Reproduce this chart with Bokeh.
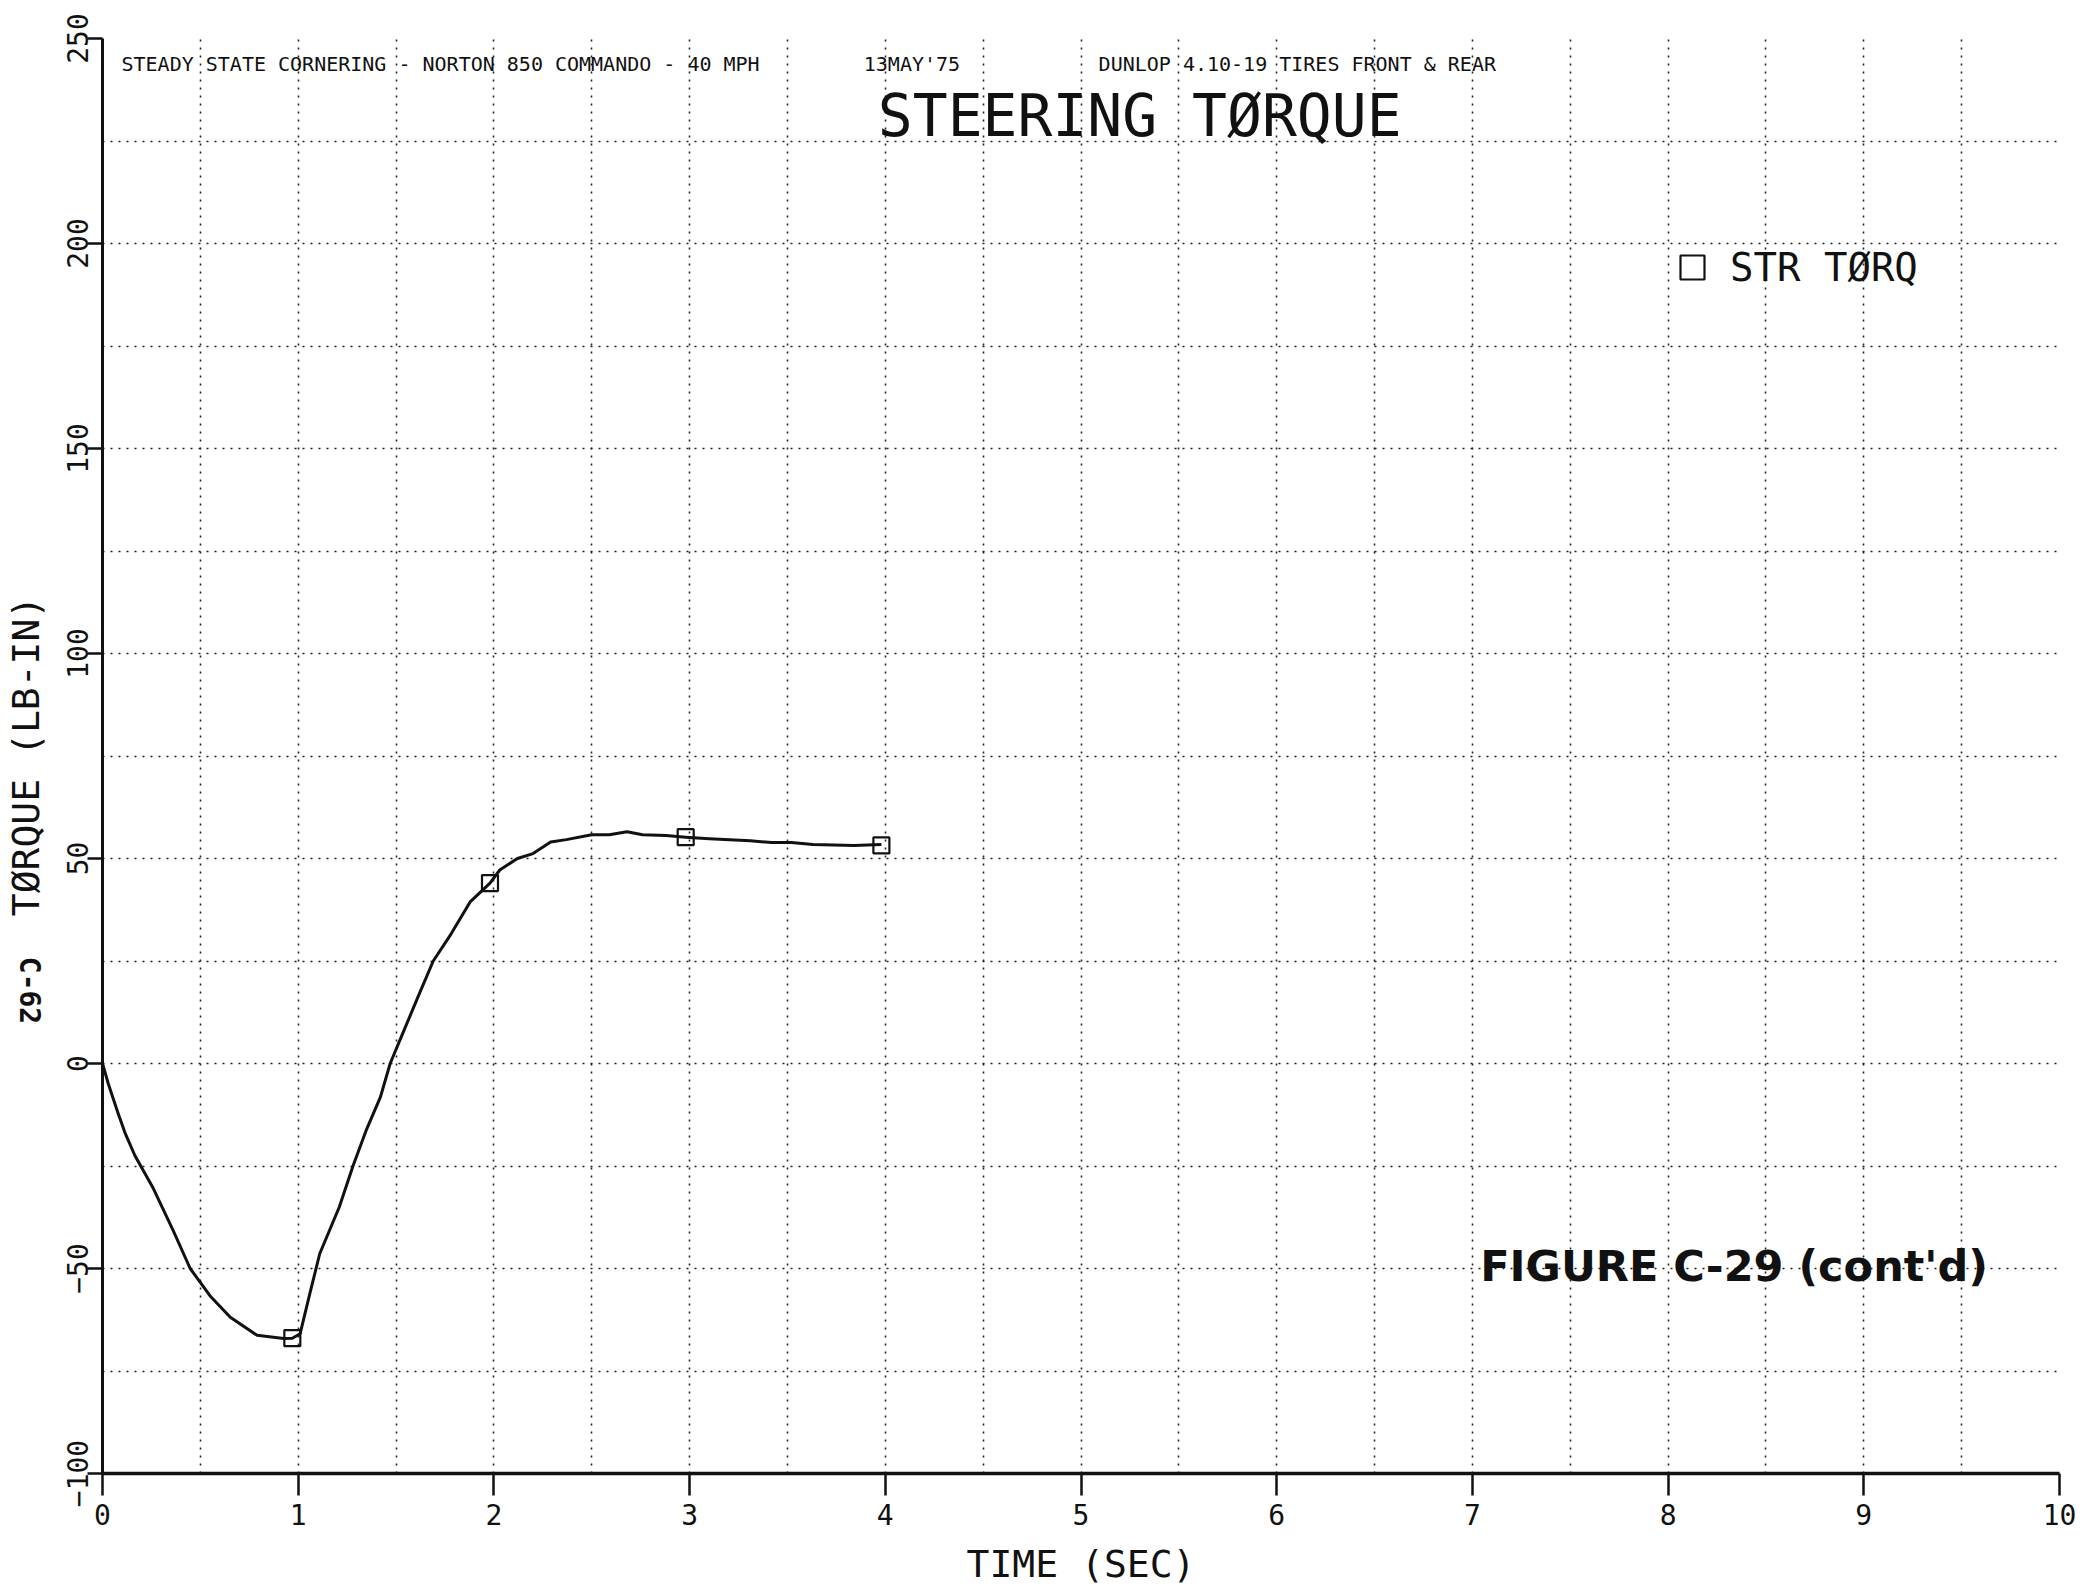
import math
from bokeh.plotting import figure
from bokeh.models import Label, Legend, LegendItem, SingleIntervalTicker, Range1d
from bokeh.embed import file_html
from bokeh.resources import INLINE

# ---- data ----
time_sec = [0.0, 0.03, 0.08, 0.115, 0.166, 0.26, 0.362, 0.448, 0.55, 0.653, 0.79, 0.926,
            0.97, 1.01, 1.06, 1.11, 1.21, 1.28, 1.35, 1.42, 1.47, 1.54, 1.61, 1.69, 1.78,
            1.88, 1.98, 2.03, 2.12, 2.20, 2.29, 2.37, 2.50, 2.59, 2.68, 2.76, 2.88, 2.98,
            3.10, 3.31, 3.42, 3.52, 3.63, 3.84, 3.98]
torque_lbin = [0.0, -5.0, -12.2, -16.9, -22.5, -30.5, -40.8, -50.0, -56.7, -61.9, -66.3, -67.1,
               -67.0, -65.9, -56.0, -46.4, -35.0, -25.0, -16.0, -8.2, 0.0, 8.0, 16.0, 25.0, 31.5,
               39.5, 44.0, 47.2, 50.0, 51.2, 54.0, 54.6, 55.8, 55.8, 56.5, 55.8, 55.6, 55.2,
               54.8, 54.3, 53.9, 53.9, 53.4, 53.2, 53.4]
marker_time = [0.97, 1.98, 2.98, 3.98]
marker_torque = [-67.0, 44.0, 55.2, 53.2]

series_name = "STR TØRQ"
x_title = "TIME (SEC)"
y_title = "TØRQUE (LB-IN)"
chart_title = "STEERING TØRQUE"
header_left = "STEADY STATE CORNERING - NORTON 850 COMMANDO - 40 MPH"
header_date = "13MAY'75"
header_right = "DUNLOP 4.10-19 TIRES FRONT & REAR"
page_number = "C-62"
figure_note = "FIGURE C-29 (cont'd)"

MONO = "DejaVu Sans Mono"
INK = "#111111"

p = figure(frame_width=1957, frame_height=1435,
           x_range=Range1d(0, 10), y_range=Range1d(-100, 250),
           output_backend="svg", toolbar_location=None,
           min_border_left=98, min_border_right=17, min_border_top=38, min_border_bottom=102)
p.outline_line_color = None
p.background_fill_color = "white"
p.border_fill_color = "white"

# axes
p.xaxis.ticker = SingleIntervalTicker(interval=1, num_minor_ticks=0)
p.yaxis.ticker = SingleIntervalTicker(interval=50, num_minor_ticks=0)
for ax in (p.xaxis, p.yaxis):
    ax.axis_line_color = INK
    ax.major_tick_line_color = INK
    ax.major_tick_line_width = 2.5
    ax.major_tick_in = 0
    ax.minor_tick_line_color = None
    ax.major_label_text_font = MONO
    ax.major_label_text_font_size = "28px"
    ax.major_label_text_color = INK
    ax.axis_label_text_font = MONO
    ax.axis_label_text_font_size = "38px"
    ax.axis_label_text_font_style = "normal"
    ax.axis_label_text_color = INK
p.xaxis.axis_line_width = 3.5
p.yaxis.axis_line_width = 3
p.xaxis.major_tick_out = 22
p.yaxis.major_tick_out = 15
p.xaxis.major_label_standoff = 8
p.yaxis.major_label_standoff = 0
p.yaxis.major_label_orientation = "vertical"
p.xaxis.axis_label = x_title
p.yaxis.axis_label = y_title
p.xaxis.axis_label_standoff = 14
p.yaxis.axis_label_standoff = 16

# dotted grid
p.xgrid.ticker = SingleIntervalTicker(interval=0.5)
p.ygrid.ticker = SingleIntervalTicker(interval=25)
for g in (p.xgrid, p.ygrid):
    g.grid_line_color = "#222222"
    g.grid_line_width = 1.6
    g.grid_line_dash = "2 6"

# trace
p.line(time_sec, torque_lbin, line_color=INK, line_width=3, line_join="round")
mk = p.scatter(marker_time, marker_torque, marker="square", size=16,
               fill_color=None, line_color=INK, line_width=2.2)

legend = Legend(items=[LegendItem(label=series_name, renderers=[mk])],
                location=(1560, 1176), orientation="vertical",
                border_line_color=None, background_fill_alpha=0,
                padding=0, margin=0, glyph_width=60, glyph_height=60,
                label_standoff=8, label_text_font=MONO, label_text_font_size="39px",
                label_text_color=INK)
p.add_layout(legend, "center")

# texts in the plot area
p.add_layout(Label(x=0.097, y=243.9, text=header_left, text_font=MONO, text_font_size="20px",
                   text_baseline="middle", text_color=INK))
p.add_layout(Label(x=3.89, y=243.9, text=header_date, text_font=MONO, text_font_size="20px",
                   text_baseline="middle", text_color=INK))
p.add_layout(Label(x=5.09, y=243.9, text=header_right, text_font=MONO, text_font_size="20px",
                   text_baseline="middle", text_color=INK))
p.add_layout(Label(x=5.30, y=231.2, text=chart_title, text_font=MONO, text_font_size="58px",
                   text_align="center", text_baseline="middle", text_color=INK))
p.add_layout(Label(x=7.04, y=-49.5, text=figure_note, text_font="DejaVu Sans", text_font_size="43px",
                   text_font_style="bold", text_baseline="alphabetic", text_color=INK))
# page number printed sideways in the left margin (placed in a thin side panel so it is not clipped)
p.add_layout(Label(x=29, y=990, x_units="canvas", y_units="canvas", text=page_number,
                   text_font=MONO, text_font_size="28px", text_line_height=0.4,
                   text_font_style="bold", text_align="center", text_baseline="middle",
                   angle=-math.pi / 2, text_color=INK), "right")

open("out.html", "w").write(file_html(p, INLINE))
